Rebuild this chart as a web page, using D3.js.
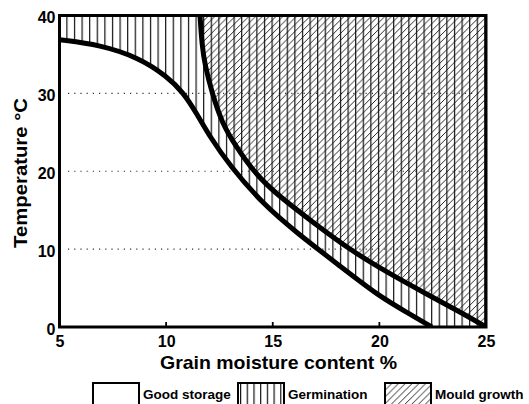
<!DOCTYPE html>
<html><head><meta charset="utf-8">
<script src="https://cdn.jsdelivr.net/npm/d3@7"></script>
<style>
html,body{margin:0;padding:0;background:#fff;}
svg{display:block;font-family:"Liberation Sans",Arial,Helvetica,sans-serif;font-weight:bold;}
</style></head><body>
<svg id="chart" width="529" height="404"></svg>
<script>
// ---- data ----
const lowerMoisture = [5.00, 6.90, 8.77, 10.04, 10.79, 11.45, 12.06, 13.00, 14.54, 16.14, 18.15, 20.03, 21.43, 22.46];
const lowerTemp     = [36.89, 36.24, 34.54, 32.17, 30.18, 27.35, 24.40, 20.67, 15.79, 12.07, 7.83, 3.85, 1.67, 0];
const upperMoisture = [11.59, 11.68, 11.82, 12.15, 12.62, 13.23, 14.17, 15.34, 16.75, 18.62, 20.50, 22.38, 23.78, 25.00];
const upperTemp     = [40, 36.21, 33.64, 30.05, 26.20, 23.37, 19.65, 16.69, 13.74, 9.89, 6.81, 3.98, 1.93, 0];
const xTicks = [5, 10, 15, 20, 25];
const yTicks = [0, 10, 20, 30, 40];
const gridTemps = [10, 20, 30];
const legendLabels = ["Good storage", "Germination", "Mould growth"];
const xTitle = "Grain moisture content %";
const yTitle = "Temperature \u00B0C";

// ---- layout ----
const svg = d3.select("#chart");
const x = d3.scaleLinear().domain([5, 25]).range([59.5, 486]);
const y = d3.scaleLinear().domain([0, 40]).range([327, 15.5]);

const defs = svg.append("defs");
const vp = defs.append("pattern").attr("id", "vert").attr("patternUnits", "userSpaceOnUse")
  .attr("x", 66.3).attr("y", 0).attr("width", 7.6).attr("height", 10);
vp.append("line").attr("x1", 0.6).attr("x2", 0.6).attr("y1", 0).attr("y2", 10)
  .attr("stroke", "#111").attr("stroke-width", 1.2);
const w = 6.8;
const dp = defs.append("pattern").attr("id", "diag").attr("patternUnits", "userSpaceOnUse")
  .attr("width", w).attr("height", w);
dp.append("path").attr("d", `M-1,1 L1,-1 M0,${w} L${w},0 M${w-1},${w+1} L${w+1},${w-1}`)
  .attr("stroke", "#111").attr("stroke-width", 0.9);
const lvp = defs.append("pattern").attr("id", "vertLeg").attr("patternUnits", "userSpaceOnUse")
  .attr("x", 240).attr("y", 0).attr("width", 6.7).attr("height", 10);
lvp.append("line").attr("x1", 0.6).attr("x2", 0.6).attr("y1", 0).attr("y2", 10)
  .attr("stroke", "#111").attr("stroke-width", 1.2);

defs.append("clipPath").attr("id", "plotClip").append("rect")
  .attr("x", x(5)).attr("y", y(40)).attr("width", x(25) - x(5)).attr("height", y(0) - y(40));

const lowerPts = lowerMoisture.map((m, i) => [m, lowerTemp[i]]);
const upperPts = upperMoisture.map((m, i) => [m, upperTemp[i]]);
const line = d3.line().x(d => x(d[0])).y(d => y(d[1])).curve(d3.curveBasis);

// gridlines
svg.append("g").selectAll("line").data(gridTemps).join("line")
  .attr("x1", 68).attr("x2", x(25) - 4)
  .attr("y1", d => y(d)).attr("y2", d => y(d))
  .attr("stroke", "#333").attr("stroke-width", 1.1).attr("stroke-dasharray", "1.2,5");

const plot = svg.append("g").attr("clip-path", "url(#plotClip)");
// germination (vertical hatch over everything above lower curve)
plot.append("path")
  .attr("d", line(lowerPts) + `L${x(25)},${y(0)}L${x(25)},${y(40)}L${x(5)},${y(40)}Z`)
  .attr("fill", "url(#vert)");
// mould (diagonal hatch above upper curve)
plot.append("path")
  .attr("d", line(upperPts) + `L${x(25)},${y(40)}Z`)
  .attr("fill", "url(#diag)");
// boundary curves
plot.append("path").attr("d", line(lowerPts)).attr("fill", "none").attr("stroke", "#000").attr("stroke-width", 5);
plot.append("path").attr("d", line(upperPts)).attr("fill", "none").attr("stroke", "#000").attr("stroke-width", 5);

// frame
svg.append("rect").attr("x", x(5)).attr("y", y(40)).attr("width", x(25) - x(5)).attr("height", y(0) - y(40))
  .attr("fill", "none").attr("stroke", "#000").attr("stroke-width", 3);

// x axis
const xAxis = d3.axisBottom(x).tickValues(xTicks).tickSize(0).tickPadding(0);
const gx = svg.append("g").attr("transform", `translate(0,${y(0)})`).call(xAxis);
gx.select(".domain").remove();
gx.selectAll("text").attr("y", 20).attr("dy", 0).attr("font-size", 16).attr("font-weight", "bold")
  .attr("font-family", "Liberation Sans, Arial, sans-serif").attr("fill", "#000");
// inner ticks on bottom axis
svg.append("g").selectAll("line").data(xTicks.slice(1, -1)).join("line")
  .attr("x1", d => x(d)).attr("x2", d => x(d)).attr("y1", y(0)).attr("y2", y(0) - 5)
  .attr("stroke", "#000").attr("stroke-width", 1.8);

// y axis
const yAxis = d3.axisLeft(y).tickValues(yTicks).tickSize(0).tickPadding(0);
const gy = svg.append("g").attr("transform", `translate(${x(5)},0)`).call(yAxis);
gy.select(".domain").remove();
gy.selectAll("text").attr("x", -4).attr("dy", "0.45em").attr("font-size", 16).attr("font-weight", "bold")
  .attr("font-family", "Liberation Sans, Arial, sans-serif").attr("fill", "#000");

// titles
svg.append("text").attr("x", 278.5).attr("y", 369).attr("text-anchor", "middle")
  .attr("font-size", 18.5).attr("textLength", 237).attr("lengthAdjust", "spacingAndGlyphs").text(xTitle);
svg.append("text").attr("transform", "translate(26.5,173) rotate(-90)").attr("text-anchor", "middle")
  .attr("font-size", 18).attr("textLength", 150).attr("lengthAdjust", "spacingAndGlyphs").text(yTitle);

// legend
const legendBoxX = [93, 238, 385];
const legendFills = ["none", "url(#vertLeg)", "url(#diag)"];
const lg = svg.append("g");
legendLabels.forEach((lab, i) => {
  lg.append("rect").attr("x", legendBoxX[i]).attr("y", 383).attr("width", 46).attr("height", 26)
    .attr("fill", legendFills[i] === "none" ? "#fff" : legendFills[i])
    .attr("stroke", "#000").attr("stroke-width", 2);
  lg.append("text").attr("x", legendBoxX[i] + 50).attr("y", 399).attr("font-size", 13.5).text(lab);
});
</script>
</body></html>
